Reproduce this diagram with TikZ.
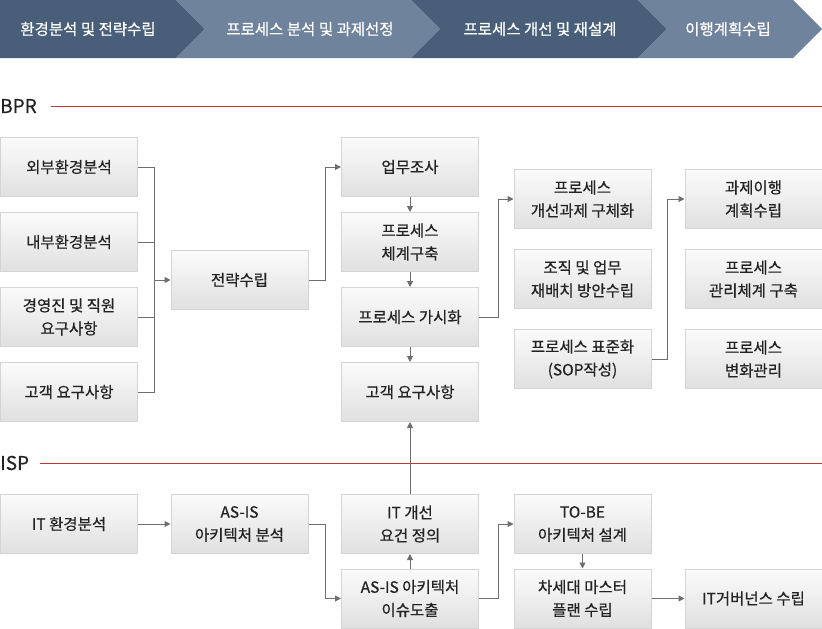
\documentclass[tikz,border=0pt]{standalone}
\usepackage{fontspec}
\setmainfont{Noto Sans CJK KR}
\newfontfamily\boxfont{Noto Sans CJK KR}[FakeBold=0.6]
\usetikzlibrary{arrows.meta}
\definecolor{bandark}{RGB}{73,95,121}
\definecolor{banlight}{RGB}{111,131,156}
\definecolor{redline}{RGB}{198,52,52}
\definecolor{boxborder}{RGB}{212,212,212}
\definecolor{boxtop}{RGB}{251,251,251}
\definecolor{boxbot}{RGB}{224,224,224}
\definecolor{txt}{RGB}{35,35,35}
\definecolor{conn}{RGB}{110,110,110}
\tikzset{
  procbox/.style={draw=boxborder, line width=1pt, top color=boxtop, bottom color=boxbot,
    minimum width=137pt, minimum height=59pt, inner sep=0pt, align=center,
    text=txt, font=\boxfont\fontsize{15.5}{23}\selectfont},
  bantext/.style={text=white, font=\boxfont\fontsize{15.5}{18}\selectfont, inner sep=0pt},
  seclabel/.style={text=txt, font=\boxfont\fontsize{19}{22}\selectfont, inner sep=0pt, anchor=west},
  secline/.style={draw=redline, line width=1pt},
  wire/.style={draw=conn, line width=1pt},
  arr/.style={draw=conn, line width=1pt, -{Triangle[length=6pt,width=6pt]}}
}
\begin{document}
\begin{tikzpicture}[x=1pt,y=-1pt]
\useasboundingbox (0,0) rectangle (822,629);
% banner
\fill[bandark] (0,0) -- (176,0) -- (205,29) -- (176,58) -- (0,58) -- cycle;
\fill[banlight] (176,0) -- (411,0) -- (440,29) -- (411,58) -- (176,58) -- (205,29) -- cycle;
\fill[bandark] (411,0) -- (638,0) -- (667,29) -- (638,58) -- (411,58) -- (440,29) -- cycle;
\fill[banlight] (638,0) -- (793,0) -- (822,29) -- (793,58) -- (638,58) -- (667,29) -- cycle;
\node[bantext] (b1) at (88,29) {환경분석 및 전략수립};
\node[bantext] (b2) at (310,29) {프로세스 분석 및 과제선정};
\node[bantext] (b3) at (540,29) {프로세스 개선 및 재설계};
\node[bantext] (b4) at (728,29) {이행계획수립};
% section labels
\node[seclabel] (bpr) at (0,106) {BPR};
\coordinate (bprend) at (822,106);
\draw[secline] (51,106) -- (bprend);
\node[seclabel] (isp) at (0,463) {ISP};
\coordinate (ispend) at (822,463);
\draw[secline] (40,463) -- (ispend);
% BPR column 1
\node[procbox] (o1) at (69,167) {외부환경분석};
\node[procbox] (o2) at (69,242) {내부환경분석};
\node[procbox] (o3) at (69,317) {경영진 및 직원\\요구사항};
\node[procbox] (o4) at (69,392) {고객 요구사항};
\node[procbox] (st) at (239.5,280) {전략수립};
% column 3
\node[procbox] (w1) at (410,167) {업무조사};
\node[procbox] (w2) at (410,242) {프로세스\\체계구축};
\node[procbox] (w3) at (410,317) {프로세스 가시화};
\node[procbox] (w4) at (410,392) {고객 요구사항};
% column 4
\node[procbox] (p1) at (582.5,199) {프로세스\\개선과제 구체화};
\node[procbox] (p2) at (582.5,279) {조직 및 업무\\재배치 방안수립};
\node[procbox] (p3) at (582.5,359) {프로세스 표준화\\(SOP작성)};
% column 5
\node[procbox] (q1) at (753.5,199) {과제이행\\계획수립};
\node[procbox] (q2) at (753.5,279) {프로세스\\관리체계 구축};
\node[procbox] (q3) at (753.5,359) {프로세스\\변화관리};
% ISP
\node[procbox] (it) at (69,524) {IT 환경분석};
\node[procbox] (as1) at (239.5,524) {AS-IS\\아키텍처 분석};
\node[procbox] (req) at (410,524) {IT 개선\\요건 정의};
\node[procbox] (as2) at (410,598.5) {AS-IS 아키텍처\\이슈도출};
\node[procbox] (tb) at (582.5,524) {TO-BE\\아키텍처 설계};
\node[procbox] (nx) at (582.5,598.5) {차세대 마스터\\플랜 수립};
\node[procbox] (gov) at (753.5,598.5) {IT거버넌스 수립};
% connectors BPR
\coordinate (bus) at (154,280);
\draw[wire] (o1.east) -| (bus);
\draw[wire] (o4.east) -| (bus);
\draw[wire] (o2.east) -- (o2.east -| bus);
\draw[wire] (o3.east) -- (o3.east -| bus);
\draw[arr] (bus) -- (st.west);
\draw[arr] (st.east) -- ++(17,0) |- (w1.west);
\draw[arr] (w1.south) -- (w2.north);
\draw[arr] (w2.south) -- (w3.north);
\draw[arr] (w3.south) -- (w4.north);
\draw[arr] (w3.east) -- ++(19,0) |- (p1.west);
\draw[arr] (p3.east) -- ++(16,0) |- (q1.west);
% connectors ISP
\draw[arr] (it.east) -- (as1.west);
\draw[arr] (as1.east) -- ++(17,0) |- (as2.west);
\draw[arr] (as2.north) -- (req.south);
\draw[arr] (req.north) -- (w4.south);
\draw[arr] (as2.east) -- ++(19,0) |- (tb.west);
\draw[arr] (tb.south) -- (nx.north);
\draw[arr] (nx.east) -- (gov.west);
\end{tikzpicture}
\end{document}
